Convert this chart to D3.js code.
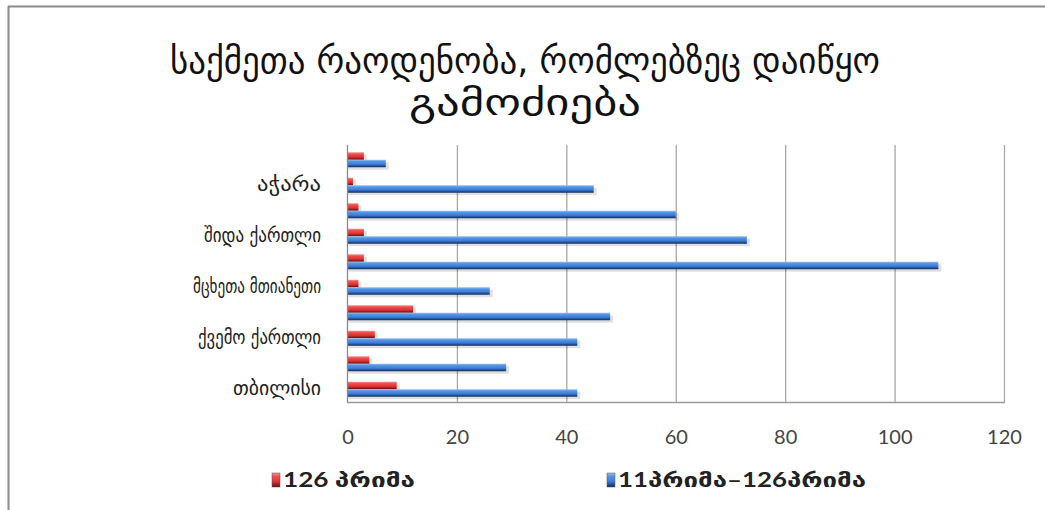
<!DOCTYPE html>
<html><head><meta charset="utf-8">
<script src="https://cdn.jsdelivr.net/npm/d3@7"></script>
<style>body{margin:0;background:#fff}svg{display:block}</style>
</head><body>
<svg id="c" width="1045" height="510"></svg>
<script>
// Data (bottom to top)
const categories = ["c1","c2","c3","c4","c5","c6","c7","c8","c9","c10"];
const categoryLabels = ["თბილისი","","ქვემო ქართლი","","მცხეთა მთიანეთი","","შიდა ქართლი","","აჭარა",""];
const labelWidths = [88,0,123,0,128,0,117,0,64,0];
const seriesNames = ["126 პრიმა","11პრიმა–126პრიმა"];
const redValues  = [9, 4, 5, 12, 2, 3, 3, 2, 1, 3];
const blueValues = [42, 29, 42, 48, 26, 108, 73, 60, 45, 7];
const xTicks = [0,20,40,60,80,100,120];
const titleLines = ["საქმეთა რაოდენობა, რომლებზეც დაიწყო","გამოძიება"];

const svg = d3.select("#c");
const defs = svg.append("defs");
function grad(id, stops){
  const g = defs.append("linearGradient").attr("id",id).attr("x1",0).attr("y1",0).attr("x2",0).attr("y2",1);
  stops.forEach(s=>g.append("stop").attr("offset",s[0]).attr("stop-color",s[1]));
}
grad("gRed",[[0,"#f89090"],[0.25,"#f04c4c"],[0.6,"#e03434"],[0.8,"#a82020"],[1,"#5a1010"]]);
grad("gBlue",[[0,"#90c0f4"],[0.25,"#5292e4"],[0.6,"#3e7ed6"],[0.8,"#24529a"],[1,"#142c58"]]);
const fills = ["url(#gRed)","url(#gBlue)"];

// frame
svg.append("line").attr("x1",8).attr("x2",1045).attr("y1",6.5).attr("y2",6.5).attr("stroke","#8a8a8a").attr("stroke-width",2);
svg.append("line").attr("x1",8.5).attr("x2",8.5).attr("y1",6).attr("y2",510).attr("stroke","#8a8a8a").attr("stroke-width",2);

// title
const title = svg.append("g");
titleLines.forEach((t,i)=>{
  title.append("text").attr("x",525).attr("y",[73,115][i]).attr("text-anchor","middle")
    .attr("font-family","DejaVu Sans, sans-serif").attr("font-size",36).attr("fill","#111")
    .attr("textLength",[710,232][i]).attr("lengthAdjust","spacingAndGlyphs").text(t);
});

const x = d3.scaleLinear().domain([0,120]).range([347.5,1004]);
const y = d3.scaleBand().domain(categories.slice().reverse()).range([147,402]);
const ys = d3.scaleBand().domain([0,1]).range([0,y.bandwidth()]).paddingOuter(0.7);

// grid
svg.append("g").selectAll("line").data(xTicks.filter(d=>d>0)).join("line")
  .attr("x1",d=>x(d)+0.5).attr("x2",d=>x(d)+0.5).attr("y1",145).attr("y2",402)
  .attr("stroke","#a8a8a8").attr("stroke-width",1.3);

// bars
const seriesVals = [redValues, blueValues];
seriesVals.forEach((vals,si)=>{
  const g = svg.append("g");
  g.selectAll("rect.s").data(vals).join("rect").attr("class","s")
    .attr("x",x(0)+1).attr("y",(d,i)=>y(categories[i])+ys(si)+2.5)
    .attr("width",d=>x(d)-x(0)+2).attr("height",ys.bandwidth())
    .attr("fill","#000").attr("opacity",0.12);
  g.selectAll("rect.b").data(vals).join("rect").attr("class","b")
    .attr("x",x(0)).attr("y",(d,i)=>y(categories[i])+ys(si))
    .attr("width",d=>x(d)-x(0)).attr("height",ys.bandwidth())
    .attr("fill",fills[si]);
});

// axes lines
svg.append("line").attr("x1",347.5).attr("x2",347.5).attr("y1",145).attr("y2",403).attr("stroke","#8a8a8a").attr("stroke-width",1.3);
svg.append("line").attr("x1",347).attr("x2",1005).attr("y1",402.5).attr("y2",402.5).attr("stroke","#9a9a9a").attr("stroke-width",1.3);

// x tick labels
const xAxis = d3.axisBottom(x).tickValues(xTicks).tickSize(0).tickPadding(0);
const xg = svg.append("g").attr("transform","translate(0,444)").call(xAxis);
xg.select(".domain").remove();
xg.selectAll("text").attr("font-family","Lato, Carlito, sans-serif").attr("font-size",20).attr("fill","#444").attr("dy",0);

// y labels
const yAxis = d3.axisLeft(y).tickFormat(d=>categoryLabels[categories.indexOf(d)]).tickSize(0).tickPadding(0);
const yg = svg.append("g").attr("transform","translate(321,0)").call(yAxis);
yg.select(".domain").remove();
yg.selectAll("text").attr("font-family","DejaVu Sans, sans-serif").attr("font-size",19).attr("fill","#222").attr("dy","0.32em")
  .each(function(d){ const w = labelWidths[categories.indexOf(d)]; if(w) d3.select(this).attr("textLength",w).attr("lengthAdjust","spacingAndGlyphs"); });

// legend
const leg = [{x:272,t:seriesNames[0],c:fills[0],w:132},{x:607,t:seriesNames[1],c:fills[1],w:248}];
leg.forEach(l=>{
  svg.append("rect").attr("x",l.x).attr("y",473).attr("width",8).attr("height",14).attr("fill",l.c).attr("stroke","#555").attr("stroke-width",0.5);
  svg.append("text").attr("x",l.x+11).attr("y",487).attr("font-family","Lato, DejaVu Sans, sans-serif")
    .attr("font-weight","bold").attr("font-size",20).attr("fill","#222")
    .attr("textLength",l.w).attr("lengthAdjust","spacingAndGlyphs").text(l.t);
});
</script>
</body></html>
